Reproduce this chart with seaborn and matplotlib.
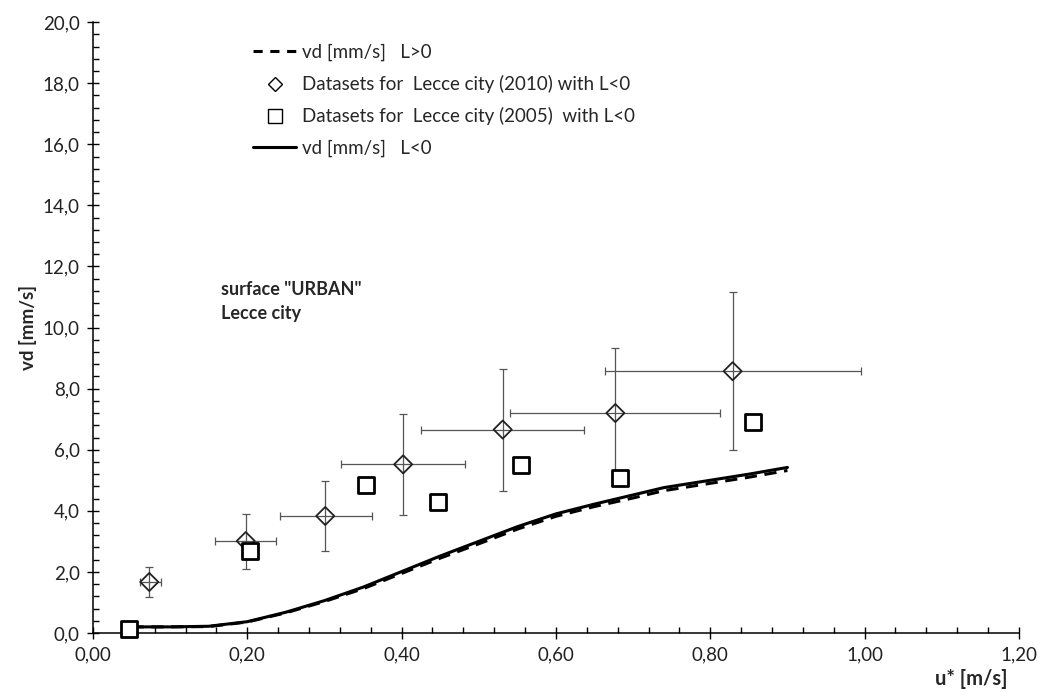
import numpy as np
import pandas as pd
import matplotlib
matplotlib.use("Agg")
import matplotlib.pyplot as plt
import seaborn as sns
from matplotlib.ticker import MultipleLocator, FuncFormatter
from matplotlib.lines import Line2D

# model curves
u_curve = [0.05, 0.10, 0.15, 0.20, 0.25, 0.30, 0.35, 0.40, 0.45, 0.50,
           0.55, 0.60, 0.65, 0.70, 0.74, 0.80, 0.85, 0.90]
vd_neg = [0.20, 0.20, 0.22, 0.37, 0.68, 1.06, 1.50, 2.01, 2.52, 3.00,
          3.48, 3.90, 4.22, 4.52, 4.76, 5.00, 5.20, 5.42]
vd_pos = [0.20, 0.20, 0.21, 0.36, 0.66, 1.03, 1.45, 1.95, 2.45, 2.92,
          3.40, 3.82, 4.14, 4.42, 4.66, 4.90, 5.10, 5.32]

# Lecce 2010 datasets (diamonds) with error ranges
u_2010 = [0.073, 0.198, 0.301, 0.402, 0.531, 0.677, 0.829]
vd_2010 = [1.67, 3.01, 3.83, 5.52, 6.66, 7.20, 8.57]
u_2010_lo = [0.061, 0.158, 0.242, 0.321, 0.425, 0.540, 0.663]
u_2010_hi = [0.088, 0.237, 0.361, 0.482, 0.637, 0.813, 0.995]
vd_2010_lo = [1.18, 2.10, 2.68, 3.85, 4.66, 5.05, 5.98]
vd_2010_hi = [2.15, 3.90, 4.98, 7.18, 8.63, 9.34, 11.15]

# Lecce 2005 datasets (squares)
u_2005 = [0.047, 0.204, 0.354, 0.447, 0.555, 0.683, 0.855]
vd_2005 = [0.14, 2.70, 4.83, 4.30, 5.50, 5.09, 6.91]

sns.set_theme(style="white")
plt.rcParams['font.family'] = ['Lato', 'DejaVu Sans']

fig = plt.figure(figsize=(10.41, 6.93), dpi=100)
ax = fig.add_axes([0.0893, 0.0866, 0.8895, 0.8815])

curves = pd.DataFrame({'u': u_curve, 'neg': vd_neg, 'pos': vd_pos})
sns.lineplot(data=curves, x='u', y='pos', ax=ax, color='black', lw=2.2,
             linestyle=(0, (4, 2.5)), zorder=3)
sns.lineplot(data=curves, x='u', y='neg', ax=ax, color='black', lw=2.2, zorder=4)

u10 = np.array(u_2010)
v10 = np.array(vd_2010)
xerr = [u10 - np.array(u_2010_lo), np.array(u_2010_hi) - u10]
yerr = [v10 - np.array(vd_2010_lo), np.array(vd_2010_hi) - v10]
ax.errorbar(u10, v10, xerr=xerr, yerr=yerr, fmt='none', ecolor='#555555',
            elinewidth=0.9, capsize=3, capthick=0.9, zorder=2)

sns.scatterplot(x=u_2010, y=vd_2010, ax=ax, marker='D', s=85,
                facecolor='none', edgecolor='#222222', linewidth=1.3, zorder=5)
sns.scatterplot(x=u_2005, y=vd_2005, ax=ax, marker='s', s=120,
                color='white', edgecolor='black', linewidth=2.0, zorder=6)
for coll in ax.collections:
    coll.set_clip_on(False)

ax.set_xlim(0, 1.2)
ax.set_ylim(0, 20)
ax.xaxis.set_major_locator(MultipleLocator(0.2))
ax.xaxis.set_minor_locator(MultipleLocator(0.04))
ax.yaxis.set_major_locator(MultipleLocator(2))
ax.yaxis.set_minor_locator(MultipleLocator(0.4))
ax.xaxis.set_major_formatter(FuncFormatter(lambda v, p: f"{v:.2f}".replace('.', ',')))
ax.yaxis.set_major_formatter(FuncFormatter(lambda v, p: f"{v:.1f}".replace('.', ',')))
ax.tick_params(which='major', direction='inout', length=9, width=1, color='black',
               labelsize=13.5, labelcolor='#222222', bottom=True, left=True, pad=5)
ax.tick_params(which='minor', direction='in', length=4, width=1, color='black',
               bottom=True, left=True)

for side in ['top', 'right']:
    ax.spines[side].set_visible(False)
for side in ['left', 'bottom']:
    ax.spines[side].set_color('black')
    ax.spines[side].set_linewidth(1.1)

ax.set_ylabel("vd [mm/s]", fontsize=13.5, fontweight='bold', labelpad=4)
ax.set_xlabel("")
fig.text(0.968, 0.006, "u* [m/s]", fontsize=14.5, fontweight='bold', ha='right', va='bottom')

ax.text(0.166, 11.25, 'surface "URBAN"', fontsize=13, fontweight='bold', va='center')
ax.text(0.166, 10.45, 'Lecce city', fontsize=13, fontweight='bold', va='center')

handles = [
    Line2D([], [], color='black', lw=2.2, linestyle=(0, (3, 2.5))),
    Line2D([], [], marker='D', color='none', markerfacecolor='none',
           markeredgecolor='black', markersize=7),
    Line2D([], [], marker='s', color='none', markerfacecolor='none',
           markeredgecolor='black', markersize=10),
    Line2D([], [], color='black', lw=2.2),
]
labels = ["vd [mm/s]   L>0",
          "Datasets for  Lecce city (2010) with L<0",
          "Datasets for  Lecce city (2005)  with L<0",
          "vd [mm/s]   L<0"]
ax.legend(handles, labels, loc='upper left', bbox_to_anchor=(0.155, 0.992),
          frameon=False, fontsize=13.5, labelspacing=0.75, handlelength=2.3,
          handletextpad=0.3)

fig.savefig("out.png", dpi=100)
